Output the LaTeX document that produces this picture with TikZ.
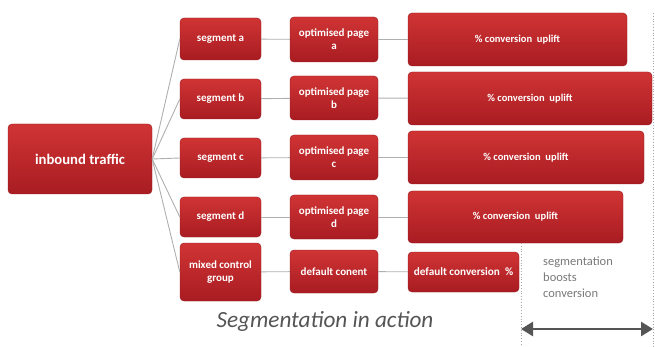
\documentclass[tikz,border=0pt]{standalone}
\usepackage{fontspec}
\setmainfont{Carlito}
\usetikzlibrary{arrows.meta}
\definecolor{boxtop}{RGB}{208,52,52}
\definecolor{boxbot}{RGB}{168,28,34}
\definecolor{boxedge}{RGB}{150,24,30}
\definecolor{linegray}{RGB}{175,175,175}
\definecolor{notegray}{RGB}{120,120,120}
\definecolor{arrowgray}{RGB}{85,85,85}
\tikzset{
  rbox/.style={draw=boxedge, line width=0.4pt, rounded corners=4pt, top color=boxtop, bottom color=boxbot,
    text=white, font=\bfseries\fontsize{11}{13}\selectfont, align=center, inner sep=1pt},
  convbox/.style={rbox, font=\bfseries\fontsize{10.5}{13}\selectfont},
  conn/.style={draw=linegray, line width=0.9pt},
  dotline/.style={draw=gray!70, line width=0.8pt, dotted},
}
\begin{document}
\begin{tikzpicture}[x=1pt,y=-1pt]
\useasboundingbox (0,0) rectangle (655,347);
% boxes
\node[rbox, minimum width=144pt, minimum height=70pt, font=\bfseries\fontsize{14.7}{16}\selectfont] (in) at (80,159) {inbound traffic};
\node[rbox, minimum width=81pt, minimum height=42pt] (sa) at (220.5,39) {segment a};
\node[rbox, minimum width=81pt, minimum height=40pt] (sb) at (220.5,99) {segment b};
\node[rbox, minimum width=81pt, minimum height=40pt] (sc) at (220.5,158) {segment c};
\node[rbox, minimum width=81pt, minimum height=40pt] (sd) at (220.5,217) {segment d};
\node[rbox, minimum width=81pt, minimum height=58pt] (sm) at (220.5,272) {mixed control\\group};
\node[rbox, minimum width=88pt, minimum height=45pt] (oa) at (334,39.5) {optimised page\\a};
\node[rbox, minimum width=88pt, minimum height=44pt] (ob) at (334,98) {optimised page\\b};
\node[rbox, minimum width=88pt, minimum height=45pt] (oc) at (334,157.5) {optimised page\\c};
\node[rbox, minimum width=88pt, minimum height=44pt] (od) at (334,217) {optimised page\\d};
\node[rbox, minimum width=88pt, minimum height=43pt] (om) at (334,271.5) {default conent};
\node[convbox, minimum width=219pt, minimum height=53pt] (ca) at (517.5,39.5) {\% conversion\ \ uplift};
\node[convbox, minimum width=244pt, minimum height=53pt] (cb) at (530,98.5) {\% conversion\ \ uplift};
\node[convbox, minimum width=236pt, minimum height=53pt] (cc) at (526,157.5) {\% conversion\ \ uplift};
\node[convbox, minimum width=215pt, minimum height=52pt] (cd) at (515.5,217) {\% conversion\ \ uplift};
\node[convbox, minimum width=111pt, minimum height=40pt, font=\bfseries\fontsize{11.2}{13}\selectfont] (cm) at (463.5,272) {default conversion\ \ \%};
% connectors
\foreach \s in {sa,sb,sc,sd,sm} \draw[conn] (in.east) -- (\s.west);
\draw[conn] (sa) -- (oa); \draw[conn] (sb) -- (ob); \draw[conn] (sc) -- (oc);
\draw[conn] (sd) -- (od); \draw[conn] (sm) -- (om);
\draw[conn] (oa) -- (ca); \draw[conn] (ob) -- (cb); \draw[conn] (oc) -- (cc);
\draw[conn] (od) -- (cd); \draw[conn] (om) -- (cm);
% dotted guides
\coordinate (l1) at (521,243); \coordinate (l2) at (521,347);
\coordinate (r1) at (653,13); \coordinate (r2) at (653,347);
\draw[dotline] (l1) -- (l2);
\draw[dotline] (r1) -- (r2);
% arrow
\coordinate (al) at (521,329); \coordinate (ar) at (653,329);
\draw[arrowgray, line width=2.6pt, {Triangle[length=12pt,width=14pt]}-{Triangle[length=12pt,width=14pt]}] (al) -- (ar);
% note
\node[anchor=north west, inner sep=0pt, align=left, text=notegray, font=\fontsize{12.5}{16}\selectfont] (note) at (543,256.5) {segmentation\\boosts\\conversion};
% caption
\node[anchor=base, inner sep=0pt, text=arrowgray, font=\itshape\fontsize{23.2}{26}\selectfont] (cap) at (325,327) {Segmentation in action};
\end{tikzpicture}
\end{document}
